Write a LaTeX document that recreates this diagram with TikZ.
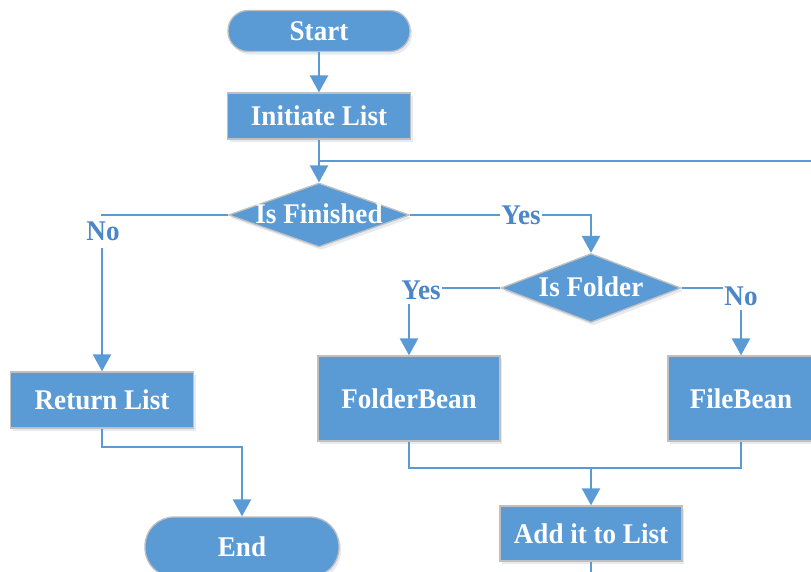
\documentclass[tikz,border=0pt]{standalone}
\usepackage{fontspec}
\setmainfont{Liberation Serif}[FakeStretch=0.95]
\usetikzlibrary{arrows.meta,shapes.geometric,shadows}
\definecolor{boxblue}{HTML}{5B9BD5}
\definecolor{edgegray}{HTML}{C0C0C0}
\definecolor{lblblue}{HTML}{4A86C8}
\begin{document}
\begin{tikzpicture}[x=1pt,y=-1pt,
  txt/.style={font=\fontsize{28.5}{31}\selectfont\bfseries},
  base/.style={fill=boxblue, draw=edgegray, line width=1.3pt, text=white, txt, inner sep=0pt,
    drop shadow={fill=boxblue!60!black, opacity=0.12, shadow xshift=2pt, shadow yshift=-3pt}},
  procbox/.style={base, rectangle},
  termbox/.style={base, rectangle, rounded corners=#1},
  decision/.style={base, diamond},
  dtext/.style={text=white, txt, inner sep=0pt},
  lbl/.style={text=lblblue, txt, fill=white, inner xsep=1pt, inner ysep=0pt},
  conn/.style={draw=boxblue, line width=2.5pt},
  flow/.style={conn, -{Triangle[width=18pt,length=17pt]}}
]
\useasboundingbox (0,0) rectangle (811,571);
\clip (0,0) rectangle (811,571);

% nodes
\node[termbox=20pt, minimum width=182pt, minimum height=41pt] (start) at (319,31) {Start};
\node[procbox, minimum width=183pt, minimum height=46pt] (init) at (319,116) {Initiate List};
\node[decision, minimum width=181pt, minimum height=64pt] (fin) at (319,215) {};
\node[dtext] (fintxt) at (319,214) {Is Finished};
\node[decision, minimum width=180pt, minimum height=69pt] (fold) at (591,288) {};
\node[dtext] (foldtxt) at (591,287) {Is Folder};
\node[procbox, minimum width=183pt, minimum height=56pt] (ret) at (102,400) {Return List};
\node[procbox, minimum width=182pt, minimum height=85pt] (fb) at (409,398.5) {FolderBean};
\node[procbox, minimum width=146pt, minimum height=85pt] (fileb) at (741,398.5) {FileBean};
\node[procbox, minimum width=182pt, minimum height=55pt] (add) at (591,533.5) {Add it to List};
\node[termbox=29pt, minimum width=194pt, minimum height=60pt] (end) at (242,547) {End};

% helper coordinates
\coordinate (loopL) at (319,161);
\coordinate (loopR) at (830,161);
\coordinate (re) at (242,447);
\coordinate (mrg) at (591,468);
\coordinate (addout) at (591,590);

% connectors
\draw[flow] (start) -- (init);
\draw[flow] (init.south) -- (fin.north);
\draw[conn] (loopL) -- (loopR);
\draw[flow] (fin.west) -| (ret.north);
\draw[flow] (fin.east) -| (fold.north);
\draw[flow] (fold.west) -| (fb.north);
\draw[flow] (fold.east) -| (fileb.north);
\draw[flow] (ret.south) |- (re) -- (end.north);
\draw[conn] (fb.south) |- (mrg) -| (fileb.south);
\draw[flow] (mrg) -- (add.north);
\draw[conn] (add.south) -- (addout);

% labels
\node[lbl, minimum height=32pt] (no1) at (103,231.5) {No};
\node[lbl] (yes1) at (521,215) {Yes};
\node[lbl, minimum height=28pt] (yes2) at (421,290) {Yes};
\node[lbl, minimum height=28pt] (no2) at (741,296) {No};
\end{tikzpicture}
\end{document}
